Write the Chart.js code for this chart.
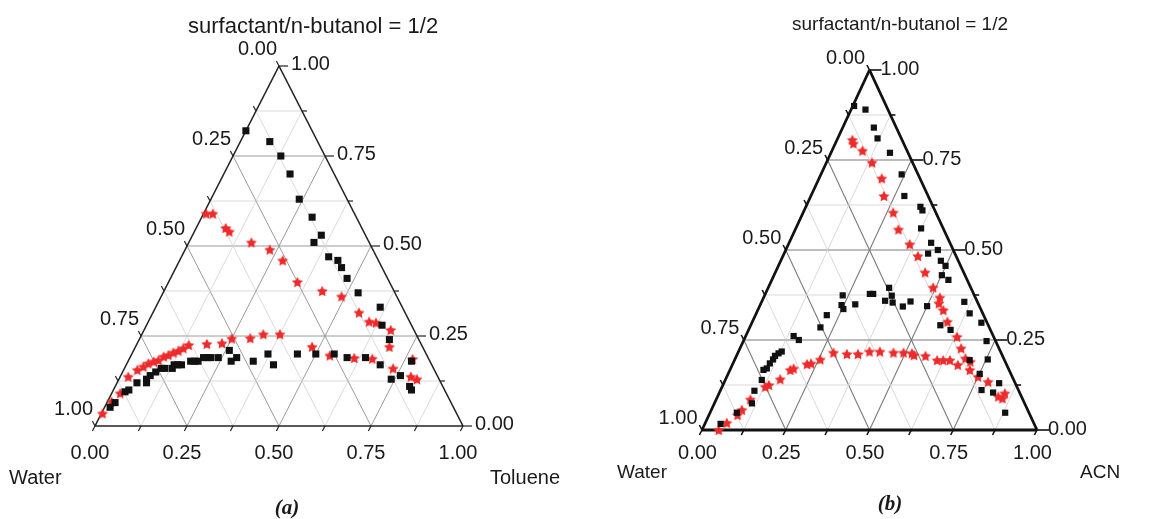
<!DOCTYPE html>
<html>
<head>
<meta charset="utf-8">
<script src="https://cdn.jsdelivr.net/npm/chart.js@4/dist/chart.umd.min.js"></script>
<style>
  body { margin: 0; background: #fff; }
  #wrap { position: relative; width: 1168px; height: 519px; overflow: hidden; }
  #wrap canvas { position: absolute; top: 0; }
</style>
</head>
<body>
<div id="wrap">
  <canvas id="ternary-a" width="584" height="519" style="left:0"></canvas>
  <canvas id="ternary-b" width="584" height="519" style="left:584px"></canvas>
</div>
<script>
// every point is [oil fraction, surfactant/n-butanol fraction]; water is what is left
const axisTicks = ['0.00', '0.25', '0.50', '0.75', '1.00'];
const gridSteps = [0.125, 0.25, 0.375, 0.5, 0.625, 0.75, 0.875];

const tolueneSquares = [
  [0.00, 0.82], [0.08, 0.79], [0.13, 0.75], [0.18, 0.70], [0.24, 0.63], [0.30, 0.58],
  [0.35, 0.53], [0.34, 0.51], [0.40, 0.47], [0.43, 0.46], [0.45, 0.44], [0.48, 0.41],
  [0.53, 0.37], [0.61, 0.33], [0.64, 0.28], [0.68, 0.24], [0.77, 0.18], [0.80, 0.11],
  [0.81, 0.10], [0.76, 0.14], [0.74, 0.13], [0.69, 0.17], [0.64, 0.19], [0.59, 0.19],
  [0.55, 0.20], [0.50, 0.20], [0.45, 0.20], [0.40, 0.17], [0.37, 0.20], [0.34, 0.18],
  [0.29, 0.19], [0.26, 0.21], [0.28, 0.18], [0.24, 0.19], [0.22, 0.19], [0.21, 0.19],
  [0.20, 0.19], [0.19, 0.18], [0.18, 0.18], [0.17, 0.18], [0.15, 0.17], [0.14, 0.17],
  [0.13, 0.17], [0.13, 0.16], [0.11, 0.16], [0.10, 0.16], [0.09, 0.15], [0.08, 0.14],
  [0.08, 0.12], [0.075, 0.13], [0.054, 0.12], [0.042, 0.10], [0.034, 0.095], [0.022, 0.065],
  [0.015, 0.052]
];
const tolueneStars = [
  [0.007, 0.59], [0.025, 0.59], [0.08, 0.55], [0.095, 0.54], [0.17, 0.51], [0.23, 0.49],
  [0.28, 0.46], [0.35, 0.40], [0.43, 0.375], [0.49, 0.36], [0.56, 0.315], [0.60, 0.29],
  [0.62, 0.287], [0.67, 0.267], [0.69, 0.22], [0.73, 0.16], [0.77, 0.186], [0.79, 0.137],
  [0.81, 0.13], [0.66, 0.187], [0.61, 0.189], [0.54, 0.196], [0.48, 0.22], [0.375, 0.255],
  [0.33, 0.255], [0.30, 0.244], [0.25, 0.243], [0.23, 0.23], [0.19, 0.228], [0.142, 0.225],
  [0.132, 0.216], [0.122, 0.209], [0.111, 0.204], [0.101, 0.197], [0.09, 0.193], [0.081, 0.183],
  [0.07, 0.179], [0.058, 0.174], [0.049, 0.165], [0.037, 0.156], [0.022, 0.137], [0.023, 0.091],
  [0.011, 0.068], [0.003, 0.035]
];
const acnSquares = [
  [0.004, 0.90], [0.043, 0.89], [0.093, 0.84], [0.119, 0.81], [0.176, 0.77], [0.241, 0.71],
  [0.279, 0.65], [0.342, 0.62], [0.353, 0.61], [0.374, 0.56], [0.424, 0.52], [0.430, 0.49],
  [0.454, 0.50], [0.478, 0.47], [0.499, 0.456], [0.501, 0.43], [0.527, 0.417], [0.361, 0.395],
  [0.312, 0.378], [0.322, 0.378], [0.233, 0.374], [0.380, 0.373], [0.367, 0.359], [0.392, 0.354],
  [0.444, 0.357], [0.428, 0.343], [0.500, 0.344], [0.283, 0.349], [0.243, 0.347], [0.254, 0.336],
  [0.213, 0.319], [0.211, 0.285], [0.605, 0.356], [0.637, 0.324], [0.685, 0.298], [0.566, 0.291],
  [0.603, 0.278], [0.726, 0.247], [0.143, 0.261], [0.164, 0.25], [0.129, 0.218], [0.122, 0.213],
  [0.115, 0.206], [0.114, 0.196], [0.110, 0.185], [0.108, 0.171], [0.100, 0.167], [0.109, 0.139],
  [0.102, 0.109], [0.112, 0.074], [0.080, 0.048], [0.047, 0.017], [0.755, 0.196], [0.702, 0.194],
  [0.751, 0.156], [0.779, 0.111], [0.822, 0.13], [0.817, 0.104], [0.881, 0.048]
];
const acnStars = [
  [0.046, 0.806], [0.054, 0.796], [0.091, 0.776], [0.136, 0.743], [0.187, 0.699], [0.218, 0.65],
  [0.269, 0.604], [0.308, 0.557], [0.362, 0.516], [0.403, 0.483], [0.447, 0.438], [0.492, 0.396],
  [0.526, 0.368], [0.531, 0.352], [0.554, 0.333], [0.582, 0.301], [0.632, 0.259], [0.660, 0.227],
  [0.687, 0.199], [0.706, 0.19], [0.716, 0.167], [0.750, 0.148], [0.787, 0.134], [0.838, 0.093],
  [0.853, 0.102], [0.853, 0.088], [0.673, 0.181], [0.643, 0.194], [0.623, 0.194], [0.605, 0.194],
  [0.564, 0.206], [0.529, 0.208], [0.520, 0.213], [0.494, 0.215], [0.464, 0.215], [0.422, 0.218],
  [0.391, 0.218], [0.360, 0.211], [0.327, 0.211], [0.285, 0.215], [0.255, 0.196], [0.233, 0.185],
  [0.222, 0.183], [0.188, 0.171], [0.180, 0.167], [0.163, 0.141], [0.137, 0.125], [0.129, 0.12],
  [0.102, 0.085], [0.091, 0.056], [0.085, 0.042], [0.064, 0.02], [0.05, 0.0]
];

// oil + surfactant fractions -> position inside the triangle
const toXY = ([oil, surf]) => ({ x: oil + surf / 2, y: surf });

function starImage(size, color) {
  const c = document.createElement('canvas');
  c.width = size; c.height = size;
  const g = c.getContext('2d');
  const r = size / 2, ri = r * 0.48;
  g.beginPath();
  for (let i = 0; i < 10; i++) {
    const a = -Math.PI / 2 + i * Math.PI / 5;
    const rr = i % 2 ? ri : r - 0.2;
    g.lineTo(r + rr * Math.cos(a), r + rr * Math.sin(a) + 0.6);
  }
  g.closePath();
  g.fillStyle = color;
  g.fill();
  return c;
}

function line(a, b, color, width) {
  return {
    data: [toXY(a), toXY(b)],
    showLine: true,
    pointRadius: 0,
    borderColor: color,
    borderWidth: width,
    clip: false
  };
}

function gridLines(cfg) {
  const sets = [];
  gridSteps.forEach(v => {
    const major = Math.abs(v * 4 - Math.round(v * 4)) < 1e-6;
    const col = major ? cfg.majorGrid : cfg.minorGrid;
    const w = major ? cfg.majorWidth : 0.8;
    sets.push(line([0, v], [1 - v, v], col, w));       // surfactant constant
    sets.push(line([v, 0], [v, 1 - v], col, w));       // oil constant
    sets.push(line([1 - v, 0], [0, 1 - v], col, w));   // water constant
  });
  return sets;
}

const ternaryDecor = {
  id: 'ternaryDecor',
  afterDraw(chart, args, o) {
    const { ctx, scales: { x, y } } = chart;
    const px = (oil, surf) => [x.getPixelForValue(oil + surf / 2), y.getPixelForValue(surf)];
    ctx.save();
    ctx.strokeStyle = o.frame;
    ctx.lineWidth = o.tickWidth;
    ctx.fillStyle = '#1a1a1a';
    ctx.font = o.tickFont;
    ctx.textBaseline = 'middle';
    // small ticks on all three sides
    for (let i = 0; i <= 8; i++) {
      const v = i / 8;
      const [bx, by] = px(v, 0);
      ctx.beginPath(); ctx.moveTo(bx, by); ctx.lineTo(bx - 2.6, by + 5); ctx.stroke();
      const [lx, ly] = px(0, v);
      ctx.beginPath(); ctx.moveTo(lx, ly); ctx.lineTo(lx - 2.6, ly - 5); ctx.stroke();
      const [rx, ry] = px(1 - v, v);
      ctx.beginPath(); ctx.moveTo(rx, ry); ctx.lineTo(rx + (i % 2 ? 5 : o.rightDash), ry); ctx.stroke();
    }
    axisTicks.forEach((t, i) => {
      const v = i / 4;
      const [bx, by] = px(v, 0);
      ctx.textAlign = 'center';
      ctx.fillText(t, bx + o.bottomDx, by + o.bottomDy);
      const [lx, ly] = px(0, 1 - v);
      ctx.textAlign = 'right';
      ctx.fillText(t, lx + o.leftDx, ly + o.leftDy);
      const [rx, ry] = px(1 - v, v);
      ctx.textAlign = 'left';
      ctx.fillText(t, rx + o.rightDx, ry + o.rightDy);
    });
    ctx.textAlign = 'left';
    ctx.font = o.titleFont;
    ctx.fillText(o.title, o.titleX, o.titleY);
    ctx.font = o.nameFont;
    ctx.fillText(o.waterName, o.waterX, o.nameY);
    ctx.fillText(o.oilName, o.oilX, o.nameY);
    ctx.font = 'italic bold 21px "Liberation Serif", "DejaVu Serif", serif';
    ctx.textAlign = 'center';
    ctx.fillText(o.caption, o.captionX, o.captionY);
    ctx.restore();
  }
};

function makeTernary(id, squares, stars, cfg) {
  const datasets = [
    {
      data: squares.map(toXY),
      pointStyle: 'rect',
      pointRadius: cfg.squareRadius,
      backgroundColor: '#111',
      borderColor: '#111',
      borderWidth: 0,
      clip: false
    },
    {
      data: stars.map(toXY),
      pointStyle: starImage(cfg.starSize, '#ee2a2a'),
      pointRadius: 6,
      clip: false
    },
    line([0, 0], [1, 0], cfg.frame, cfg.frameWidth),
    line([1, 0], [0, 1], cfg.frame, cfg.frameWidth),
    line([0, 1], [0, 0], cfg.frame, cfg.frameWidth),
    ...gridLines(cfg)
  ];
  return new Chart(document.getElementById(id), {
    type: 'scatter',
    data: { datasets },
    options: {
      responsive: false,
      animation: false,
      events: [],
      layout: { padding: cfg.padding },
      scales: {
        x: { type: 'linear', min: 0, max: 1, display: false },
        y: { type: 'linear', min: 0, max: 1, display: false }
      },
      plugins: {
        legend: { display: false },
        tooltip: { enabled: false },
        ternaryDecor: cfg
      }
    },
    plugins: [ternaryDecor]
  });
}

const chartA = makeTernary('ternary-a', tolueneSquares, tolueneStars, {
  padding: { left: 95, right: 121, top: 66, bottom: 93 },
  frame: '#222', frameWidth: 1.6, tickWidth: 1.2, rightDash: 9,
  majorGrid: '#8f8f8f', minorGrid: '#d2d2d2', majorWidth: 0.9,
  squareRadius: 5, starSize: 12,
  tickFont: '20px "Liberation Sans", Arial, sans-serif',
  titleFont: '22px "Liberation Sans", Arial, sans-serif',
  nameFont: '20px "Liberation Sans", Arial, sans-serif',
  bottomDx: -5, bottomDy: 27, leftDx: -2, leftDy: -17, rightDx: 12, rightDy: -2,
  title: 'surfactant/n-butanol = 1/2', titleX: 188, titleY: 27,
  waterName: 'Water', waterX: 9, oilName: 'Toluene', oilX: 490, nameY: 478,
  caption: '(a)', captionX: 287, captionY: 509
});

const chartB = makeTernary('ternary-b', acnSquares, acnStars, {
  padding: { left: 118, right: 131, top: 70, bottom: 89 },
  frame: '#111', frameWidth: 2.8, tickWidth: 1.6, rightDash: 12,
  majorGrid: '#7a7a7a', minorGrid: '#cfcfcf', majorWidth: 1.1,
  squareRadius: 4.4, starSize: 12,
  tickFont: '20px "Liberation Sans", Arial, sans-serif',
  titleFont: '19px "Liberation Sans", Arial, sans-serif',
  nameFont: '19px "Liberation Sans", Arial, sans-serif',
  bottomDx: -4.5, bottomDy: 23, leftDx: -4.5, leftDy: -12, rightDx: 11, rightDy: -1,
  title: 'surfactant/n-butanol = 1/2', titleX: 208, titleY: 25,
  waterName: 'Water', waterX: 33, oilName: 'ACN', oilX: 496, nameY: 473,
  caption: '(b)', captionX: 306, captionY: 505
});
</script>
</body>
</html>
